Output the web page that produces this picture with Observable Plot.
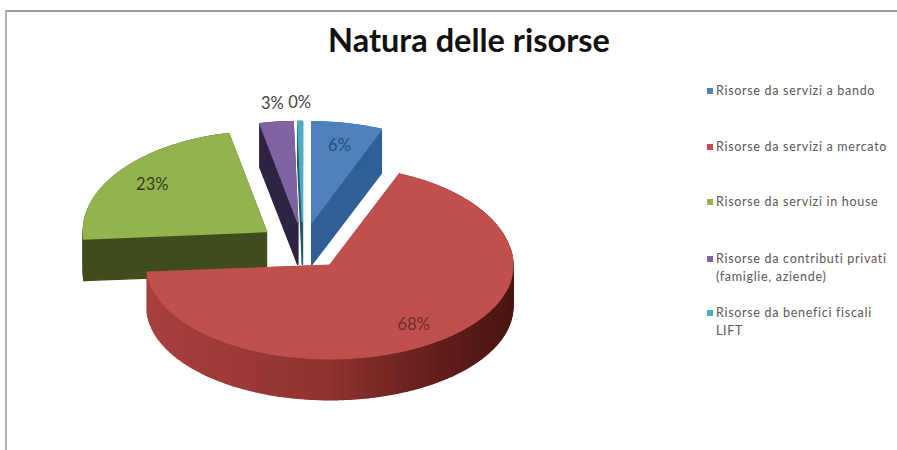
<!DOCTYPE html>
<html>
<head>
<meta charset="utf-8">
<script src="https://cdn.jsdelivr.net/npm/d3@7"></script>
<script src="https://cdn.jsdelivr.net/npm/@observablehq/plot@0.6"></script>
<style>
  html, body { margin: 0; padding: 0; background: #fff; }
  #page { position: relative; width: 897px; height: 450px; overflow: hidden; font-family: Lato, "Open Sans", sans-serif; }
  #frame { position: absolute; left: 5px; top: 10px; right: -4px; bottom: -4px; border-top: 2px solid #9a9a9a; border-left: 2px solid #b0b0b0; pointer-events: none; }
  #title { position: absolute; left: 269px; width: 400px; top: 20px; text-align: center; font-size: 32.5px; font-weight: 700; color: #111; white-space: nowrap; }
  .key { position: absolute; left: 716px; width: 176px; font-size: 12.5px; letter-spacing: 0.7px; line-height: 18px; color: #5a5a5a; }
  .key i { position: absolute; left: -9px; top: 6px; width: 6px; height: 6px; }
</style>
</head>
<body>
<div id="page">
  <div id="chart"></div>
  <div id="frame"></div>
  <div id="title">Natura delle risorse</div>
</div>
<script>
// Shares of resources by nature, in percent
const categories = [
  "Risorse da servizi a bando",
  "Risorse da servizi a mercato",
  "Risorse da servizi in house",
  "Risorse da contributi privati (famiglie, aziende)",
  "Risorse da benefici fiscali LIFT"
];
const shares = [6.2, 67.6, 22.9, 2.9, 0.4];
const topColors = ["#4f81bd", "#c0504d", "#93b34f", "#8064a2", "#4bacc6"];
const sideColors = ["#2f5f96", "#8f3431", "#3f4d1c", "#2e2342", "#215968"];
const legendRows = [91, 147, 202, 259, 313];

// The disc is a unit circle; the x and y scales squash it into the tilted ellipse.
const explode = 0.25;
const depth = 0.44;
// The far half of the disc reads slightly deeper than the near half.
const foreshorten = v => (v > 0 ? v * 1.042 : v * 0.972);
const rimShade = d3.scaleLinear()
  .domain([-1, 0, 0.55, 1])
  .range(["#a8403d", "#8f3431", "#651f1c", "#4a1613"]);

const arcs = d3.pie().sort(null).value(d => d)(shares);
const polar = (a, r = 1) => [r * Math.sin(a), r * Math.cos(a)];

const addFace = (target, face, color, pts) => {
  [...pts, pts[0]].forEach(([x, y]) => target.push({face, color, x, y}));
};

const labels = [];
// Painting order keeps the large front slice over the others
const order = [2, 3, 4, 0, 1];
const layers = order.map(i => {
  const {startAngle: a0, endAngle: a1} = arcs[i];
  const mid = (a0 + a1) / 2;
  const [cx, cy] = polar(mid, explode);
  const at = (a, r = 1) => { const [x, y] = polar(a, r); return [cx + x, cy + y]; };
  const down = ([x, y]) => [x, y - depth];
  const steps = Math.max(2, Math.ceil((a1 - a0) * 180 / Math.PI));
  const rim = d3.range(steps + 1).map(k => at(a0 + (a1 - a0) * k / steps));
  const apex = [cx, cy];

  const side = [];
  const top = [];
  addFace(side, `cut0-${i}`, sideColors[i], [apex, rim[0], down(rim[0]), down(apex)]);
  addFace(side, `cut1-${i}`, sideColors[i], [apex, rim[steps], down(rim[steps]), down(apex)]);
  for (let k = 0; k < steps; k++) {
    const color = i === 1 ? rimShade(rim[k][0] - cx) : sideColors[i];
    addFace(side, `rim-${i}-${k}`, color, [rim[k], rim[k + 1], down(rim[k + 1]), down(rim[k])]);
  }
  addFace(top, `top-${i}`, topColors[i], [apex, ...rim]);

  const [lx, ly] = at(mid, shares[i] < 5 ? 1.19 : 0.78);
  labels.push({x: lx, y: ly, text: `${Math.round(shares[i])}%`, color: i >= 3 ? "#444" : d3.color(sideColors[i]).darker(0.6).formatHex()});
  return {side, top};
});

const chart = Plot.plot({
  width: 897,
  height: 450,
  margin: 0,
  axis: null,
  x: {domain: [-1.653, 3.249], range: [0, 897]},
  y: {domain: [2.5625, -2.125], range: [0, 450], transform: foreshorten},
  color: {type: "identity"},
  style: {background: "transparent"},
  marks: [
    ...layers.flatMap(({side, top}) => [
      Plot.line(side, {x: "x", y: "y", z: "face", fill: "color", stroke: "color", strokeWidth: 1.4}),
      Plot.line(top, {x: "x", y: "y", z: "face", fill: "color", stroke: "color", strokeWidth: 1.6})
    ]),
    Plot.text(labels, {x: "x", y: "y", text: "text", fill: "color", fontSize: 16.5, fontFamily: "Lato"})
  ]
});
document.getElementById("chart").append(chart);

// Legend keys beside the pie
const page = document.getElementById("page");
categories.forEach((name, i) => {
  const row = document.createElement("div");
  row.className = "key";
  row.style.top = `${legendRows[i] - 9}px`;
  const swatch = document.createElement("i");
  swatch.style.background = topColors[i];
  row.append(swatch, name);
  page.append(row);
});
</script>
</body>
</html>
